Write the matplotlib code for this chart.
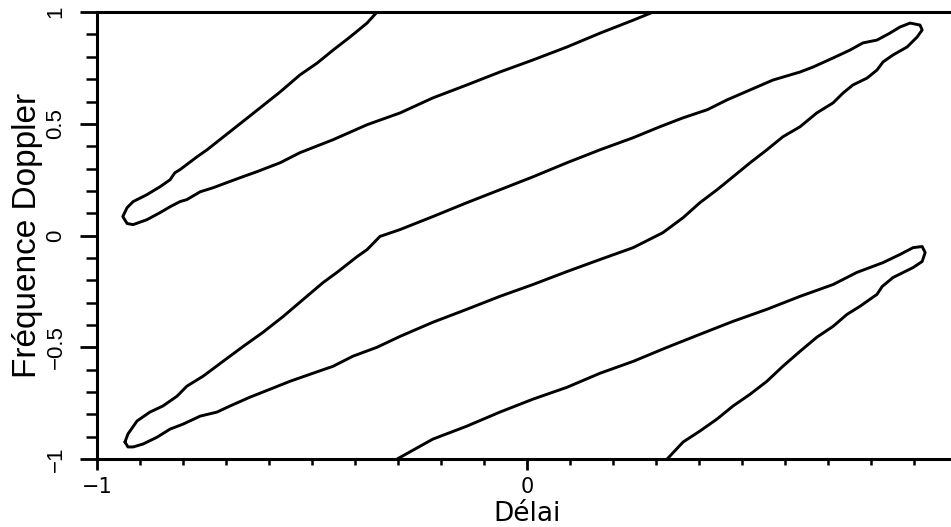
import matplotlib
matplotlib.use('Agg')
import matplotlib.pyplot as plt
from matplotlib.ticker import MultipleLocator, FixedLocator, FixedFormatter

# contour lines of the ambiguity function
# upper-left band (open at the top)
top_x = [-0.349, -0.372, -0.412, -0.451, -0.488, -0.528, -0.574, -0.644, -0.744, -0.767,
         -0.807, -0.819, -0.830, -0.853, -0.884, -0.916, -0.930, -0.940, -0.930, -0.916,
         -0.884, -0.853, -0.830, -0.807, -0.791, -0.760, -0.730, -0.698, -0.667, -0.628,
         -0.574, -0.528, -0.451, -0.372, -0.295, -0.219, -0.140, -0.063, 0.014, 0.093,
         0.170, 0.247, 0.293]
top_y = [1.000, 0.951, 0.888, 0.830, 0.772, 0.719, 0.643, 0.536, 0.384, 0.353,
         0.295, 0.281, 0.250, 0.219, 0.183, 0.152, 0.125, 0.085, 0.054, 0.049,
         0.071, 0.103, 0.129, 0.152, 0.161, 0.196, 0.214, 0.237, 0.259, 0.286,
         0.326, 0.371, 0.429, 0.496, 0.549, 0.616, 0.674, 0.732, 0.786, 0.844,
         0.906, 0.964, 1.000]

# central band (closed)
mid_x = [-0.935, -0.928, -0.916, -0.893, -0.860, -0.830, -0.800, -0.760, -0.721, -0.691,
         -0.644, -0.598, -0.551, -0.505, -0.451, -0.405, -0.349, -0.295, -0.219, -0.140,
         -0.063, 0.014, 0.093, 0.170, 0.247, 0.316, 0.363, 0.402, 0.442, 0.479,
         0.519, 0.558, 0.595, 0.635, 0.674, 0.712, 0.735, 0.758, 0.791, 0.814,
         0.828, 0.851, 0.884, 0.907, 0.919, 0.914, 0.891, 0.867, 0.844, 0.814,
         0.781, 0.751, 0.712, 0.665, 0.635, 0.572, 0.519, 0.465, 0.419, 0.363,
         0.309, 0.247, 0.170, 0.093, 0.014, -0.063, -0.140, -0.219, -0.295, -0.342,
         -0.372, -0.395, -0.442, -0.474, -0.512, -0.567, -0.614, -0.660, -0.707, -0.753,
         -0.791, -0.814, -0.847, -0.877, -0.907, -0.928, -0.935]
mid_y = [-0.924, -0.946, -0.946, -0.933, -0.902, -0.866, -0.844, -0.808, -0.790, -0.763,
         -0.723, -0.688, -0.652, -0.621, -0.585, -0.540, -0.500, -0.451, -0.388, -0.330,
         -0.272, -0.219, -0.161, -0.107, -0.054, 0.013, 0.080, 0.147, 0.205, 0.263,
         0.326, 0.384, 0.442, 0.487, 0.549, 0.594, 0.638, 0.674, 0.705, 0.741,
         0.777, 0.808, 0.844, 0.888, 0.920, 0.942, 0.951, 0.933, 0.906, 0.875,
         0.862, 0.830, 0.795, 0.754, 0.732, 0.696, 0.652, 0.607, 0.563, 0.527,
         0.487, 0.438, 0.384, 0.326, 0.263, 0.205, 0.147, 0.085, 0.027, -0.004,
         -0.063, -0.094, -0.165, -0.210, -0.272, -0.362, -0.433, -0.496, -0.563, -0.629,
         -0.674, -0.719, -0.763, -0.790, -0.830, -0.888, -0.924]

# lower-right band (open at the bottom)
low_x = [-0.302, -0.219, -0.140, -0.063, 0.014, 0.093, 0.170, 0.247, 0.326, 0.402,
         0.479, 0.558, 0.635, 0.712, 0.767, 0.828, 0.867, 0.898, 0.919, 0.926,
         0.919, 0.898, 0.851, 0.826, 0.814, 0.774, 0.744, 0.712, 0.674, 0.635,
         0.595, 0.558, 0.519, 0.479, 0.442, 0.402, 0.363, 0.326]
low_y = [-1.000, -0.911, -0.853, -0.790, -0.732, -0.679, -0.616, -0.563, -0.500, -0.442,
         -0.384, -0.330, -0.272, -0.219, -0.165, -0.121, -0.085, -0.054, -0.049, -0.076,
         -0.116, -0.143, -0.188, -0.228, -0.263, -0.317, -0.353, -0.406, -0.455, -0.518,
         -0.585, -0.652, -0.710, -0.763, -0.821, -0.875, -0.924, -1.000]

x_major = [-1, 0]
x_labels = ['\u22121', '0']
y_major = [-1, -0.5, 0, 0.5, 1]
y_labels = ['\u22121', '\u22120.5', '0', '0.5', '1']

plt.rcParams['font.family'] = ['Liberation Sans', 'DejaVu Sans']
plt.rcParams['xtick.labelsize'] = 15
plt.rcParams['ytick.labelsize'] = 16

fig = plt.figure(figsize=(9.51, 5.27), dpi=100)
# right edge of the frame lies just outside the picture, as in the scan
ax = fig.add_axes([0.102, 0.129, 0.9043, 0.848])

for xs, ys in [(top_x, top_y), (mid_x, mid_y), (low_x, low_y)]:
    ax.plot(xs, ys, color='black', lw=2.1, solid_joinstyle='round', solid_capstyle='round')

ax.set_xlim(-1, 1)
ax.set_ylim(-1, 1)

ax.xaxis.set_major_locator(FixedLocator(x_major))
ax.xaxis.set_major_formatter(FixedFormatter(x_labels))
ax.xaxis.set_minor_locator(MultipleLocator(0.1))
ax.yaxis.set_major_locator(FixedLocator(y_major))
ax.yaxis.set_major_formatter(FixedFormatter(y_labels))
ax.yaxis.set_minor_locator(MultipleLocator(0.1))

ax.tick_params(axis='x', which='major', direction='out', length=8, width=2, pad=5)
ax.tick_params(axis='x', which='minor', direction='out', length=4.5, width=1.8)
ax.tick_params(axis='y', which='major', direction='out', length=12, width=2, pad=10,
               labelrotation=90)
ax.tick_params(axis='y', which='minor', direction='out', length=8, width=1.8)

fig.canvas.draw()
for lab in ax.get_xticklabels():
    lab.set_fontfamily('DejaVu Sans')
    lab.set_fontsize(15)
for lab in ax.get_yticklabels():
    lab.set_verticalalignment('center')
    lab.set_fontsize(16)

for side in ['left', 'bottom', 'top', 'right']:
    ax.spines[side].set_linewidth(2.2)

ax.set_xlabel('Délai', fontsize=19, fontfamily='DejaVu Sans', labelpad=3)
ax.set_ylabel('Fréquence Doppler', fontsize=24, labelpad=2)

fig.savefig('out.png', dpi=100)
